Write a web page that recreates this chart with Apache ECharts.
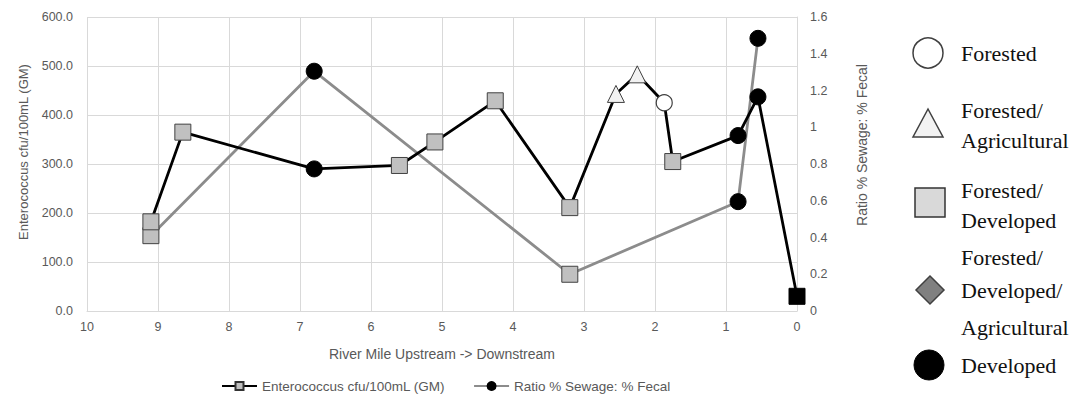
<!DOCTYPE html>
<html>
<head>
<meta charset="utf-8">
<script src="https://cdn.jsdelivr.net/npm/echarts@6/dist/echarts.min.js"></script>
<style>
html,body{margin:0;padding:0;background:#fff;}
#chart{width:1080px;height:394px;}
</style>
</head>
<body>
<div id="chart"></div>
<script>
// ---- data ----
const xTicks = [10, 9, 8, 7, 6, 5, 4, 3, 2, 1, 0];
const leftTicks = [0, 100, 200, 300, 400, 500, 600];
const rightTicks = [0, 0.2, 0.4, 0.6, 0.8, 1, 1.2, 1.4, 1.6];

const enteroName = 'Enterococcus cfu/100mL (GM)';
const enteroMiles = [9.1, 8.65, 6.8, 5.6, 5.1, 4.25, 3.2, 2.55, 2.25, 1.87, 1.75, 0.83, 0.55, 0.0];
const enteroValues = [182, 365, 290, 297, 345, 429, 211, 443, 483, 425, 305, 358, 437, 30];
const enteroLandUse = ['FD', 'FD', 'D', 'FD', 'FD', 'FD', 'FD', 'FA', 'FA', 'F', 'FD', 'D', 'D', 'M'];

const ratioName = 'Ratio % Sewage: % Fecal';
const ratioMiles = [9.1, 6.8, 3.2, 0.83, 0.55];
const ratioValues = [0.41, 1.305, 0.20, 0.595, 1.484];
const ratioLandUse = ['FD', 'D', 'FD', 'D', 'D'];

const landUseLegend = [
  { key: 'F', lines: ['Forested'] },
  { key: 'FA', lines: ['Forested/', 'Agricultural'] },
  { key: 'FD', lines: ['Forested/', 'Developed'] },
  { key: 'FDA', lines: ['Forested/', 'Developed/', 'Agricultural'] },
  { key: 'D', lines: ['Developed'] }
];

// ---- styles ----
const markerStyles = {
  F:  { symbol: 'circle',   symbolSize: 16, itemStyle: { color: '#ffffff', borderColor: '#404040', borderWidth: 1.2 } },
  FA: { symbol: 'triangle', symbolSize: 17, itemStyle: { color: '#f2f2f2', borderColor: '#404040', borderWidth: 1 } },
  FD: { symbol: 'rect',     symbolSize: 16, itemStyle: { color: '#c0c0c0', borderColor: '#404040', borderWidth: 1 } },
  D:  { symbol: 'circle',   symbolSize: 16, itemStyle: { color: '#000000', borderColor: '#000000', borderWidth: 1 } },
  M:  { symbol: 'rect',     symbolSize: 16, itemStyle: { color: '#000000', borderColor: '#000000', borderWidth: 1 } }
};

function buildData(xs, ys, uses) {
  return xs.map((x, i) => Object.assign({ value: [x, ys[i]] }, markerStyles[uses[i]]));
}

const axisFont = 'Liberation Sans';
const labelColor = '#595959';
const gridColor = '#d9d9d9';

// ---- right-side land use legend (graphic) ----
const legendShapes = {
  F:   { type: 'circle', shape: { cx: 928, cy: 53, r: 15 }, style: { fill: '#ffffff', stroke: '#404040', lineWidth: 1.5 } },
  FA:  { type: 'polygon', shape: { points: [[928, 109], [913, 137], [943, 137]] }, style: { fill: '#f2f2f2', stroke: '#404040', lineWidth: 1.5 } },
  FD:  { type: 'rect', shape: { x: 915, y: 188, width: 30, height: 29 }, style: { fill: '#d9d9d9', stroke: '#333333', lineWidth: 1.5 } },
  FDA: { type: 'polygon', shape: { points: [[930, 276], [944, 290], [930, 304], [916, 290]] }, style: { fill: '#808080', stroke: '#404040', lineWidth: 1.5 } },
  D:   { type: 'circle', shape: { cx: 929, cy: 365, r: 15 }, style: { fill: '#000000', stroke: '#000000', lineWidth: 1 } }
};
const legendTextY = { F: [53], FA: [110, 140], FD: [190, 220], FDA: [257, 290, 327], D: [365] };

const graphics = [];
landUseLegend.forEach(item => {
  graphics.push(Object.assign({}, legendShapes[item.key]));
  item.lines.forEach((t, j) => {
    graphics.push({
      type: 'text',
      x: 961,
      y: legendTextY[item.key][j],
      style: { text: t, fill: '#111', font: '22px "Liberation Serif", serif', verticalAlign: 'middle' }
    });
  });
});

const chart = echarts.init(document.getElementById('chart'), null, { renderer: 'svg' });
chart.setOption({
  animation: false,
  backgroundColor: '#ffffff',
  grid: { left: 87, right: 283, top: 17, bottom: 83, containLabel: false },
  legend: {
    left: 216, top: 374,
    itemWidth: 35, itemHeight: 10, itemGap: 28,
    textStyle: { fontFamily: axisFont, fontSize: 13.5, color: labelColor },
    data: [enteroName, ratioName]
  },
  xAxis: {
    type: 'value', inverse: true, min: 0, max: 10, interval: 1,
    name: 'River Mile Upstream -> Downstream', nameLocation: 'middle', nameGap: 36,
    nameTextStyle: { fontFamily: axisFont, fontSize: 14, color: labelColor },
    axisLine: { show: true, lineStyle: { color: gridColor } },
    axisTick: { show: false },
    axisLabel: { margin: 9, fontFamily: axisFont, fontSize: 12.5, color: labelColor,
      formatter: v => xTicks.includes(v) ? String(v) : '' },
    splitLine: { show: true, lineStyle: { color: gridColor, width: 1 } }
  },
  yAxis: [
    {
      type: 'value', min: 0, max: 600, interval: 100, position: 'left',
      name: enteroName, nameLocation: 'middle', nameGap: 57, nameRotate: 90,
      nameTextStyle: { fontFamily: axisFont, fontSize: 13, color: labelColor, padding: [0, 0, 0, 24] },
      axisLine: { show: true, lineStyle: { color: gridColor } },
      axisTick: { show: false },
      axisLabel: { margin: 14, fontFamily: axisFont, fontSize: 12.5, color: labelColor,
        formatter: v => leftTicks.includes(v) ? v.toFixed(1) : '' },
      splitLine: { show: true, lineStyle: { color: gridColor, width: 1 } }
    },
    {
      type: 'value', min: 0, max: 1.6, interval: 0.2, position: 'right',
      name: ratioName, nameLocation: 'middle', nameGap: 58, nameRotate: 90,
      nameTextStyle: { fontFamily: axisFont, fontSize: 14, color: labelColor, padding: [0, 0, 0, 38] },
      axisLine: { show: false },
      axisTick: { show: false },
      axisLabel: { margin: 13, fontFamily: axisFont, fontSize: 12.5, color: labelColor,
        formatter: v => { const r = parseFloat(v.toFixed(1)); return rightTicks.includes(r) ? String(r) : ''; } },
      splitLine: { show: false }
    }
  ],
  series: [
    {
      name: enteroName, type: 'line', yAxisIndex: 0,
      symbol: 'rect', symbolSize: 10,
      itemStyle: { color: '#c0c0c0', borderColor: '#333333', borderWidth: 1 },
      lineStyle: { color: '#000000', width: 2.8 },
      z: 3,
      data: buildData(enteroMiles, enteroValues, enteroLandUse)
    },
    {
      name: ratioName, type: 'line', yAxisIndex: 1,
      symbol: 'circle', symbolSize: 9,
      itemStyle: { color: '#000000', borderColor: '#000000', borderWidth: 1 },
      lineStyle: { color: '#8c8c8c', width: 2.8 },
      z: 2,
      data: buildData(ratioMiles, ratioValues, ratioLandUse)
    }
  ],
  graphic: graphics
});
</script>
</body>
</html>
